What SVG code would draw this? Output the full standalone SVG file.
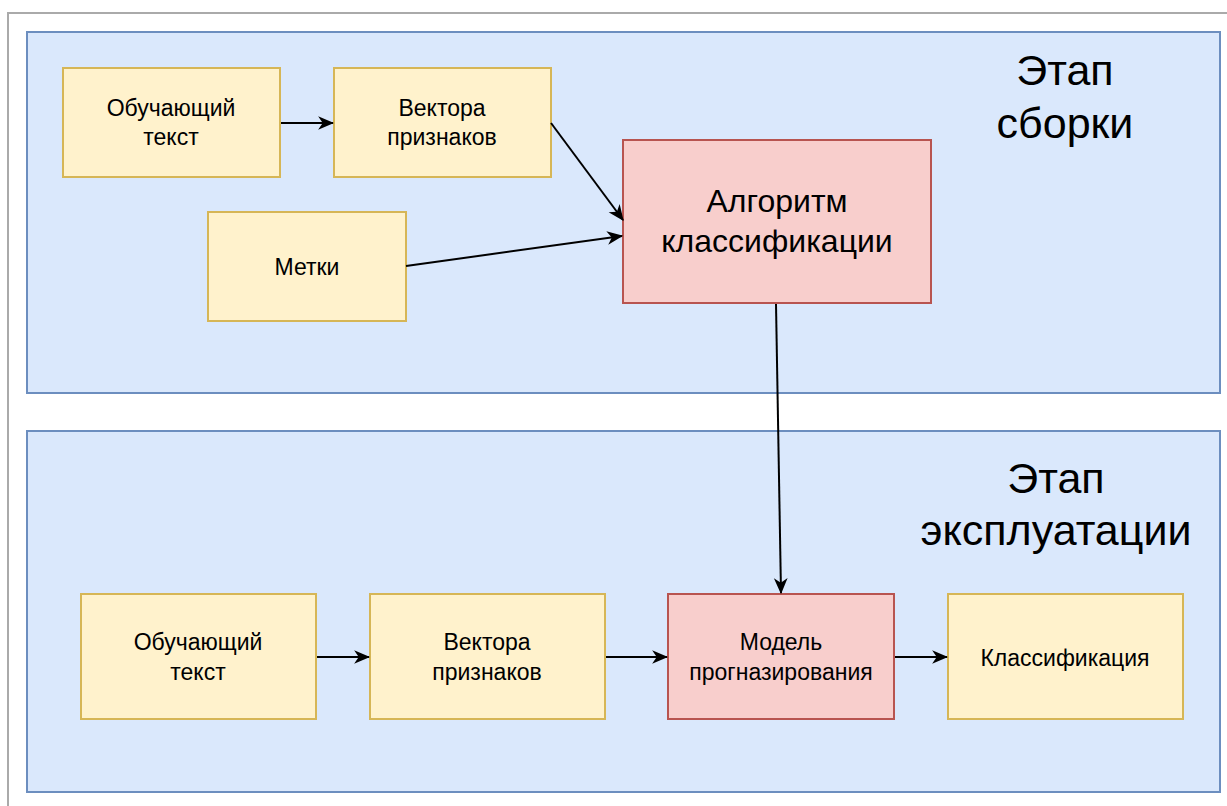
<svg xmlns="http://www.w3.org/2000/svg" width="1227" height="806" viewBox="0 0 1227 806">
<style>
text{font-family:"Liberation Sans",Arial,sans-serif;fill:#000;text-anchor:middle}
.stage{fill:#dae8fc;stroke:#6c8ebf;stroke-width:2}
.y{fill:#fff2cc;stroke:#d6b656;stroke-width:2}
.r{fill:#f8cecc;stroke:#b85450;stroke-width:2}
.n{font-size:23px}
.big{font-size:43px}
.alg{font-size:32px}
</style>
<defs>
<marker id="b" viewBox="0 0 14 14" refX="13" refY="7" markerWidth="16" markerHeight="16" markerUnits="userSpaceOnUse" orient="auto">
<path d="M0,1 L14,7 L0,13 L4,7 z" fill="#000"/>
</marker>
</defs>
<rect width="1227" height="806" fill="#fff"/>
<path d="M8,806 V13 H1227" fill="none" stroke="#aaa" stroke-width="2"/>
<g id="stage1"><rect class="stage" x="27" y="32" width="1193" height="361"/>
<text class="big" x="1065" y="85">Этап</text><text class="big" x="1065" y="138">сборки</text></g>
<g id="stage2"><rect class="stage" x="27" y="431" width="1193" height="361"/>
<text class="big" x="1056" y="493">Этап</text><text class="big" x="1056" y="545">эксплуатации</text></g>
<g id="n1"><rect class="y" x="63" y="68" width="217" height="109"/><text class="n" x="171" y="116">Обучающий</text><text class="n" x="171" y="145">текст</text></g>
<g id="n2"><rect class="y" x="334" y="68" width="217" height="109"/><text class="n" x="442" y="116">Вектора</text><text class="n" x="442" y="145">признаков</text></g>
<g id="n3"><rect class="y" x="208" y="212" width="198" height="109"/><text class="n" x="307" y="275">Метки</text></g>
<g id="n4"><rect class="r" x="623" y="140" width="308" height="163"/><text class="alg" x="777" y="212">Алгоритм</text><text class="alg" x="777" y="252">классификации</text></g>
<g id="n5"><rect class="y" x="81" y="594" width="235" height="125"/><text class="n" x="198" y="650">Обучающий</text><text class="n" x="198" y="680">текст</text></g>
<g id="n6"><rect class="y" x="370" y="594" width="235" height="125"/><text class="n" x="487" y="650">Вектора</text><text class="n" x="487" y="680">признаков</text></g>
<g id="n7"><rect class="r" x="668" y="594" width="226" height="125"/><text class="n" x="781" y="650">Модель</text><text class="n" x="781" y="680">прогназирования</text></g>
<g id="n8"><rect class="y" x="948" y="594" width="235" height="125"/><text class="n" x="1065" y="666">Классификация</text></g>
<g id="edges" stroke="#000" stroke-width="2" fill="none">
<line x1="281" y1="123" x2="333" y2="123" marker-end="url(#b)"/>
<line x1="551" y1="123" x2="623" y2="220" marker-end="url(#b)"/>
<line x1="406" y1="266" x2="622" y2="236" marker-end="url(#b)"/>
<line x1="776" y1="304" x2="781" y2="593" marker-end="url(#b)"/>
<line x1="317" y1="657" x2="369" y2="657" marker-end="url(#b)"/>
<line x1="606" y1="657" x2="667" y2="657" marker-end="url(#b)"/>
<line x1="895" y1="657" x2="947" y2="657" marker-end="url(#b)"/>
</g>
</svg>
